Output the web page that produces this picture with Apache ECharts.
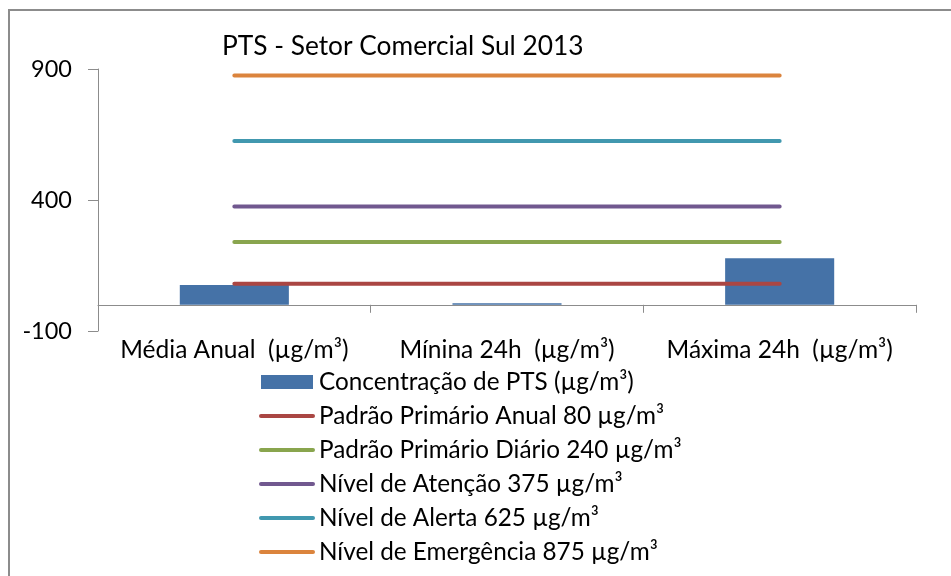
<!DOCTYPE html>
<html>
<head>
<meta charset="utf-8">
<script src="https://cdn.jsdelivr.net/npm/echarts@6/dist/echarts.min.js"></script>
<style>
  html, body { margin: 0; padding: 0; background: #fff; }
  #frame { position: absolute; left: 8px; top: 9px; width: 1000px; height: 700px; border: 2px solid #8c8c8c; box-sizing: border-box; }
  #chart { position: absolute; left: 0; top: 0; width: 951px; height: 576px; }
</style>
</head>
<body>
<div id="frame"></div>
<div id="chart"></div>
<script>
// dados
const categorias = ['Média Anual  (µg/m³)', 'Mínina 24h  (µg/m³)', 'Máxima 24h  (µg/m³)']
const concentracao = [76, 6, 178]
const padraoAnual = [80, 80, 80]
const padraoDiario = [240, 240, 240]
const nivelAtencao = [375, 375, 375]
const nivelAlerta = [625, 625, 625]
const nivelEmergencia = [875, 875, 875]
const yTicks = [-100, 400, 900]

const font = 'Lato, "Liberation Sans", sans-serif'

const cores = {
    barra: '#4572A7',
    anual: '#AA4643',
    diario: '#89A54E',
    atencao: '#71588F',
    alerta: '#4198AF',
    emergencia: '#DB843D'
}

function linha(name, data, color) {
    return {
        name: name,
        type: 'line',
        data: data,
        symbol: 'none',
        color: color,
        lineStyle: { width: 4, color: color, cap: 'round' },
        z: 3
    }
}

function itemLegenda(name) {
    return { name: name, itemStyle: { opacity: 0 }, lineStyle: { width: 4, cap: 'round' } }
}

let myChart = echarts.init(document.getElementById('chart'))
let option = {
    animation: false,
    title: {
        text: 'PTS - Setor Comercial Sul 2013',
        left: 217,
        top: 29,
        textStyle: { fontFamily: font, fontSize: 26.3, fontWeight: 'normal', color: '#000' }
    },
    legend: {
        orient: 'vertical',
        left: 254,
        top: 365,
        height: 220,
        itemWidth: 52,
        itemHeight: 14,
        itemGap: 10,
        textStyle: { fontFamily: font, fontSize: 24.3, color: '#000', padding: [0, 0, 0, 1] },
        data: [
            { name: 'Concentração de PTS (µg/m³)', icon: 'rect' },
            itemLegenda('Padrão Primário Anual 80 µg/m³'),
            itemLegenda('Padrão Primário Diário 240 µg/m³'),
            itemLegenda('Nível de Atenção 375 µg/m³'),
            itemLegenda('Nível de Alerta 625 µg/m³'),
            itemLegenda('Nível de Emergência 875 µg/m³')
        ]
    },
    grid: { left: 98, right: 35, top: 69, bottom: 245 },
    xAxis: {
        type: 'category',
        data: categorias,
        axisLine: { onZero: true, lineStyle: { color: '#8c8c8c', width: 1 } },
        axisTick: { show: true, length: 8, lineStyle: { color: '#8c8c8c' } },
        axisLabel: { fontFamily: font, fontSize: 24.5, color: '#000', margin: 7, interval: 0 }
    },
    yAxis: {
        type: 'value',
        min: yTicks[0],
        max: yTicks[yTicks.length - 1],
        interval: yTicks[1] - yTicks[0],
        splitLine: { show: false },
        axisLine: { show: true, lineStyle: { color: '#8c8c8c', width: 1 } },
        axisTick: { show: true, length: 10, lineStyle: { color: '#8c8c8c' } },
        axisLabel: { fontFamily: font, fontSize: 23.5, color: '#000', margin: 26 }
    },
    series: [
        {
            name: 'Concentração de PTS (µg/m³)',
            type: 'bar',
            data: concentracao,
            barWidth: '40%',
            color: cores.barra,
            itemStyle: { color: cores.barra },
            z: 2
        },
        linha('Padrão Primário Anual 80 µg/m³', padraoAnual, cores.anual),
        linha('Padrão Primário Diário 240 µg/m³', padraoDiario, cores.diario),
        linha('Nível de Atenção 375 µg/m³', nivelAtencao, cores.atencao),
        linha('Nível de Alerta 625 µg/m³', nivelAlerta, cores.alerta),
        linha('Nível de Emergência 875 µg/m³', nivelEmergencia, cores.emergencia)
    ]
}
myChart.setOption(option)
</script>
</body>
</html>
